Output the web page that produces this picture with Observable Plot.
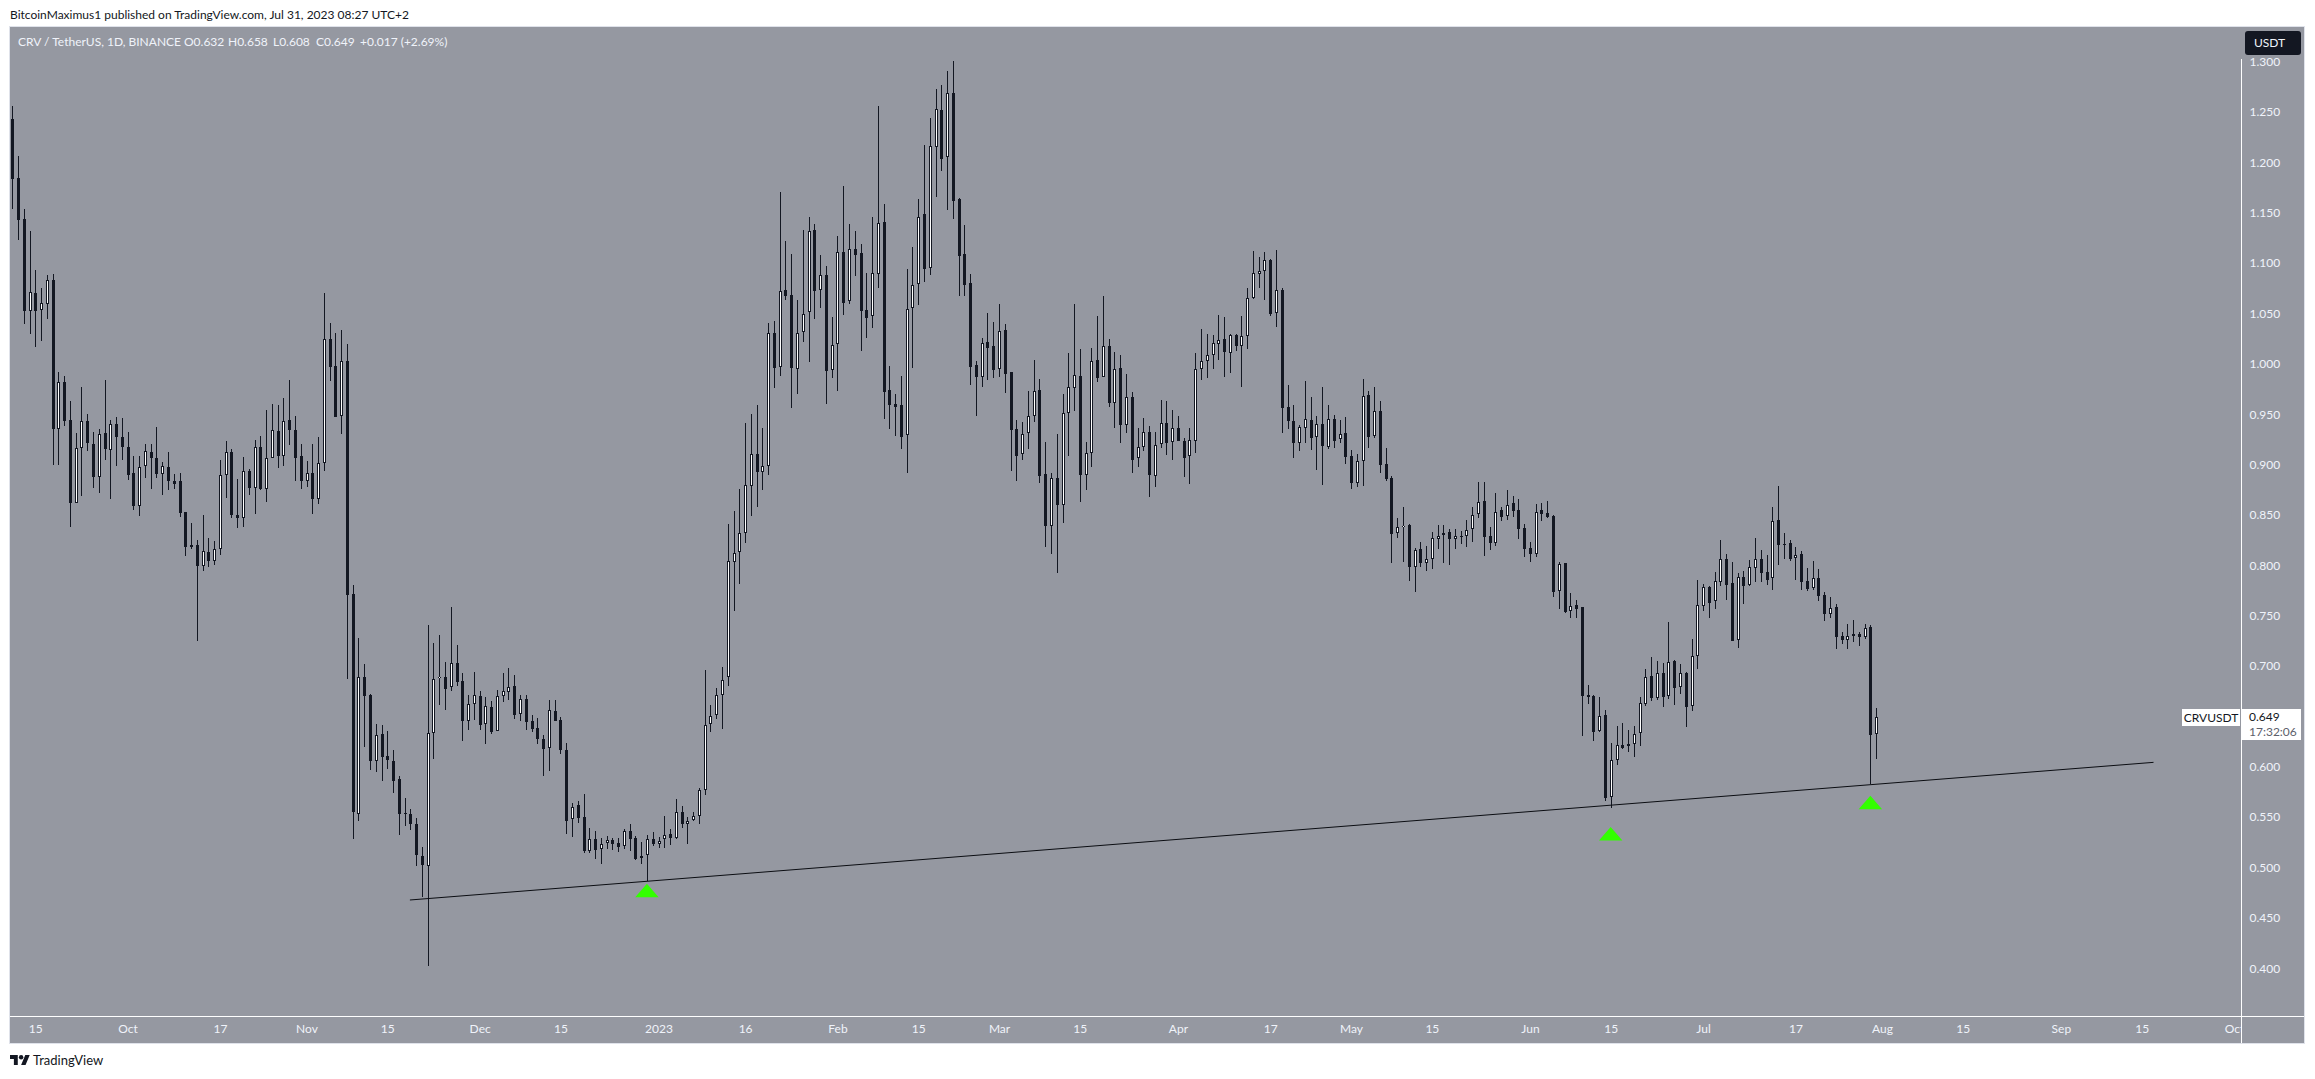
<!DOCTYPE html>
<html>
<head>
<meta charset="utf-8">
<script src="https://cdn.jsdelivr.net/npm/d3@7"></script>
<script src="https://cdn.jsdelivr.net/npm/@observablehq/plot@0.6"></script>
<style>
html,body{margin:0;padding:0;background:#fff;overflow:hidden}
#page{position:relative;width:2315px;height:1079px;overflow:hidden;font-family:Lato,sans-serif;font-size:12px}
#page>*{position:absolute}
#page svg{display:block}
#pane{left:9px;top:26px;width:2296px;height:1018px;box-sizing:border-box;border:1px solid #dfe2ea;background:#9598a1}
.w{white-space:pre;line-height:14px}
.leg{top:35px;color:#f0f3fa}
</style>
</head>
<body>
<div id="page">
  <div id="pane"></div>
  <div id="plot" style="left:0;top:0"></div>
  <div style="left:2242px;top:27px;width:62px;height:31px;background:#9598a1"></div>
  <div style="left:2242px;top:1017px;width:62px;height:26px;background:#9598a1"></div>
  <div style="left:2241px;top:59px;width:1px;height:984px;background:#fff"></div>
  <div style="left:10px;top:1016px;width:2294px;height:1px;background:#fff"></div>
  <div class="w" style="left:10px;top:8px;color:#131722">BitcoinMaximus1 published on TradingView.com, Jul 31, 2023 08:27 UTC+2</div>
  <div class="w leg" style="left:18px">CRV / TetherUS, 1D, BINANCE</div>
  <div class="w leg" style="left:184px">O0.632</div>
  <div class="w leg" style="left:228px">H0.658</div>
  <div class="w leg" style="left:273px">L0.608</div>
  <div class="w leg" style="left:316px">C0.649</div>
  <div class="w leg" style="left:360px">+0.017 (+2.69%)</div>
  <div class="w" style="left:2245px;top:31px;width:56px;height:24px;line-height:24px;background:#131722;border-radius:3px;color:#f0f3fa;box-sizing:border-box;padding-left:9px">USDT</div>
  <div class="w" id="tagName" style="left:2182px;width:58px;height:17px;line-height:17px;background:#fff;color:#131722;text-align:center">CRVUSDT</div>
  <div class="w" id="tagPrice" style="left:2242px;width:59px;height:31px;background:#fff;color:#131722;padding-left:7px;box-sizing:border-box;line-height:15px">0.649<br><span style="color:#5d606b">17:32:06</span></div>
  <svg style="left:10px;top:1055px" width="20" height="10" viewBox="0 4 36 18"><path d="M14 22H7V11H0V4h14v18ZM28 22h-8l7.5-18h8L28 22Z" fill="#131722"/><circle cx="20" cy="8" r="4" fill="#131722"/></svg>
  <div class="w" style="left:33px;top:1053px;color:#131722;font-size:13px">TradingView</div>
</div>
<script>
const opens = [
1.243,1.184,1.144,1.052,1.070,1.053,1.059,1.083,.935,.982,
.944,.862,.916,.943,.920,.888,.931,.914,.940,.927,
.917,.892,.859,.899,.912,.906,.891,.898,.884,.884,
.853,.818,.820,.799,.813,.804,.816,.890,.912,.850,
.847,.894,.877,.917,.876,.906,.933,.908,.944,.934,
.908,.884,.892,.866,.902,1.025,.998,.948,1.003,.771,
.553,.689,.671,.606,.632,.611,.606,.588,.554,.553,
.543,.511,.501,.633,.688,.689,.679,.703,.685,.645,
.662,.670,.642,.659,.635,.670,.674,.680,.652,.667,
.645,.638,.628,.619,.655,.646,.617,.548,.562,.550,
.516,.528,.518,.524,.527,.524,.521,.536,.529,.511,
.512,.528,.523,.528,.533,.529,.555,.543,.547,.551,
.577,.642,.651,.671,.689,.803,.813,.832,.879,.910,
.893,.899,1.031,.997,1.073,1.068,.995,1.032,1.051,1.133,
1.073,1.088,.994,1.020,1.111,1.062,1.114,1.110,1.053,1.047,
1.089,1.141,.974,.960,.959,.929,1.055,1.079,1.149,1.095,
1.215,1.252,1.205,1.269,1.164,1.109,1.080,.999,.987,1.022,
1.018,.995,1.034,.992,.935,.910,.931,.948,.974,.891,
.839,.887,.860,.951,.976,.988,.890,.911,1.004,.987,
1.018,.961,.996,.939,.967,.906,.917,.932,.889,.920,
.941,.922,.936,.923,.908,.923,.995,1.003,1.009,1.020,
1.025,1.011,1.029,1.018,1.028,1.065,1.089,1.092,1.103,1.050,
1.073,.957,.943,.921,.936,.944,.927,.940,.917,.945,
.925,.931,.908,.882,.904,.969,.928,.953,.901,.887,
.832,.838,.840,.798,.816,.802,.806,.826,.832,.833,
.826,.829,.829,.836,.851,.864,.829,.822,.855,.849,
.862,.855,.837,.817,.811,.855,.852,.849,.774,.802,
.755,.761,.759,.671,.670,.635,.651,.570,.607,.622,
.621,.623,.633,.662,.690,.668,.693,.670,.705,.679,
.693,.660,.710,.760,.778,.765,.783,.806,.782,.726,
.788,.780,.797,.806,.793,.787,.845,.821,.822,.807,
.811,.784,.777,.787,.770,.752,.759,.730,.726,.732,
.732,.729,.739,.632];
const highs = [
1.256,1.206,1.154,1.132,1.093,1.075,1.088,1.089,.992,.988,
.963,.931,.977,.950,.932,.935,.984,.944,.947,.946,
.932,.908,.908,.920,.920,.937,.903,.912,.891,.892,
.853,.842,.825,.850,.827,.824,.905,.923,.915,.886,
.907,.896,.924,.928,.954,.960,.959,.966,.984,.948,
.920,.904,.920,.927,1.070,1.041,1.031,1.034,1.020,.780,
.728,.702,.672,.642,.641,.635,.617,.591,.569,.558,
.549,.520,.741,.723,.731,.704,.759,.721,.693,.671,
.694,.675,.669,.665,.676,.693,.698,.691,.671,.671,
.651,.648,.631,.666,.666,.649,.624,.564,.566,.573,
.539,.536,.529,.531,.529,.529,.538,.543,.531,.525,
.532,.535,.530,.551,.538,.568,.561,.550,.555,.579,
.696,.661,.678,.699,.841,.854,.876,.941,.950,.959,
.936,1.041,1.043,1.171,1.122,1.109,1.063,1.133,1.146,1.139,
1.108,1.097,1.046,1.127,1.177,1.139,1.132,1.119,1.090,1.146,
1.256,1.159,.998,.970,.988,1.094,1.116,1.164,1.217,1.244,
1.273,1.277,1.291,1.301,1.165,1.138,1.089,1.003,1.026,1.050,
1.042,1.059,1.040,.992,.944,.942,.973,1.004,.985,.922,
.892,.930,.970,1.011,1.059,1.015,.922,1.016,1.047,1.067,
1.025,1.012,1.009,.990,.972,.936,.946,.938,.932,.964,
.963,.954,.948,.926,.936,1.011,1.035,1.030,1.029,1.048,
1.046,1.030,1.030,1.047,1.075,1.112,1.106,1.111,1.104,1.113,
1.075,.979,.959,.939,.983,.967,.948,.977,.959,.949,
.944,.947,.914,.910,.985,.973,.977,.963,.916,.889,
.847,.858,.841,.817,.823,.819,.833,.840,.840,.836,
.836,.834,.845,.858,.883,.883,.838,.872,.858,.875,
.869,.866,.841,.823,.861,.862,.864,.850,.803,.802,
.772,.766,.759,.681,.671,.669,.656,.624,.640,.643,
.636,.640,.669,.697,.709,.705,.703,.744,.706,.702,
.694,.727,.785,.781,.779,.793,.825,.811,.803,.792,
.794,.805,.827,.815,.810,.858,.879,.832,.825,.818,
.814,.797,.804,.796,.773,.768,.762,.734,.742,.746,
.734,.742,.741,.658];
const lows = [
1.154,1.123,1.040,1.030,1.017,1.023,1.044,.900,.900,.938,
.838,.862,.869,.913,.877,.872,.905,.866,.899,.905,
.885,.855,.849,.887,.876,.887,.870,.875,.876,.848,
.809,.816,.725,.794,.798,.800,.810,.867,.847,.837,
.838,.870,.851,.875,.863,.906,.897,.899,.919,.884,
.876,.878,.851,.861,.894,.983,.947,.930,.687,.528,
.546,.620,.597,.595,.586,.598,.574,.532,.541,.537,
.501,.471,.402,.608,.661,.656,.675,.680,.626,.636,
.646,.636,.623,.632,.635,.664,.666,.647,.645,.636,
.634,.623,.591,.596,.645,.613,.533,.530,.544,.514,
.514,.508,.503,.518,.517,.515,.518,.516,.507,.503,
.487,.521,.519,.519,.522,.528,.539,.523,.546,.543,
.572,.634,.647,.637,.680,.755,.781,.822,.849,.858,
.875,.890,.976,.988,1.063,.956,.970,1.022,1.002,1.044,
1.055,.960,.986,.973,1.048,1.059,1.087,1.013,1.026,1.036,
1.075,.945,.935,.928,.915,.892,.996,1.058,1.081,1.088,
1.166,1.191,1.153,1.144,1.067,1.067,.979,.948,.977,.984,
.986,.987,.971,.894,.884,.905,.915,.942,.882,.818,
.811,.792,.842,.908,.953,.863,.875,.898,.982,.987,
.957,.936,.921,.931,.892,.898,.913,.868,.878,.916,
.909,.905,.923,.888,.881,.911,.984,.986,.995,1.004,
.987,.991,1.013,.977,1.015,1.064,1.075,1.063,1.047,1.037,
.931,.935,.906,.913,.921,.914,.895,.880,.915,.916,
.921,.901,.876,.878,.879,.916,.926,.892,.884,.802,
.827,.803,.784,.773,.798,.794,.796,.816,.802,.800,
.816,.821,.818,.823,.847,.809,.815,.819,.844,.845,
.848,.826,.808,.803,.808,.844,.847,.768,.757,.753,
.748,.748,.630,.662,.626,.634,.566,.559,.602,.618,
.615,.610,.621,.660,.665,.666,.659,.667,.661,.672,
.639,.655,.697,.755,.748,.757,.779,.766,.725,.718,
.762,.779,.783,.783,.780,.775,.800,.806,.804,.785,
.775,.774,.775,.765,.745,.748,.717,.722,.717,.724,
.720,.727,.583,.608];
const closes = [
1.183,1.143,1.052,1.071,1.052,1.060,1.083,.935,.982,.943,
.862,.916,.943,.921,.888,.930,.915,.940,.927,.917,
.890,.859,.898,.913,.906,.891,.899,.884,.881,.852,
.818,.820,.799,.814,.804,.816,.890,.912,.850,.847,
.894,.877,.917,.876,.906,.934,.908,.943,.934,.906,
.884,.892,.866,.902,1.025,.997,.947,1.003,.770,.555,
.689,.670,.606,.631,.610,.607,.586,.553,.553,.543,
.512,.502,.633,.687,.689,.677,.703,.684,.645,.662,
.671,.641,.660,.634,.670,.675,.679,.651,.667,.644,
.637,.628,.618,.656,.645,.617,.546,.560,.549,.516,
.528,.517,.523,.527,.523,.520,.536,.528,.508,.509,
.528,.523,.526,.532,.529,.555,.543,.546,.551,.577,
.641,.650,.671,.686,.804,.812,.832,.880,.910,.893,
.899,1.031,.996,1.072,1.067,.996,1.031,1.049,1.132,1.072,
1.088,.993,1.019,1.111,1.060,1.114,1.108,1.052,1.045,1.090,
1.140,.972,.959,.957,.927,1.054,1.078,1.146,1.094,1.216,
1.253,1.203,1.269,1.162,1.107,1.078,.997,.987,1.021,1.016,
.994,1.033,.990,.934,.908,.930,.948,.973,.889,.839,
.887,.860,.951,.977,.989,.890,.911,1.003,.986,1.018,
.961,.995,.939,.967,.905,.917,.932,.890,.919,.941,
.921,.936,.923,.906,.924,.995,1.003,1.009,1.021,1.024,
1.012,1.029,1.018,1.028,1.065,1.090,1.092,1.103,1.049,1.073,
.956,.943,.921,.937,.945,.926,.940,.918,.945,.923,
.930,.907,.882,.904,.968,.927,.953,.900,.886,.831,
.838,.839,.798,.815,.802,.806,.827,.829,.830,.826,
.829,.828,.835,.850,.863,.828,.822,.853,.848,.860,
.854,.836,.816,.811,.853,.851,.848,.773,.801,.754,
.760,.757,.670,.669,.634,.650,.569,.607,.622,.619,
.623,.632,.663,.689,.668,.693,.669,.704,.678,.693,
.659,.710,.761,.778,.763,.784,.806,.780,.725,.788,
.779,.798,.806,.792,.785,.844,.820,.820,.806,.810,
.783,.776,.787,.769,.752,.758,.729,.726,.730,.730,
.729,.738,.631,.649];

const priceTicks = [.4,.45,.5,.55,.6,.65,.7,.75,.8,.85,.9,.95,1,1.05,1.1,1.15,1.2,1.25,1.3];
const timeTicks = ["2022-09-15","2022-10-01","2022-10-17","2022-11-01","2022-11-15","2022-12-01","2022-12-15","2023-01-01","2023-01-16","2023-02-01","2023-02-15","2023-03-01","2023-03-15","2023-04-01","2023-04-17","2023-05-01","2023-05-15","2023-06-01","2023-06-15","2023-07-01","2023-07-17","2023-08-01","2023-08-15","2023-09-01","2023-09-15","2023-10-01"];
const timeLabels = ["15","Oct","17","Nov","15","Dec","15","2023","16","Feb","15","Mar","15","Apr","17","May","15","Jun","15","Jul","17","Aug","15","Sep","15","Oct"];
const trendDays = [68.9,370.9];
const trendPrices = [.4682,.6048];
const arrowDays = [109.9,276.9,321.9];
const arrowPrices = [.4777,.5340,.5650];
const lastClose = .649;

if (new Set([opens.length,highs.length,lows.length,closes.length]).size !== 1) throw new Error("length mismatch " + [opens.length,highs.length,lows.length,closes.length]);

const firstDay = Date.UTC(2022,8,11);
const day = i => new Date(firstDay + i*864e5);
const candles = opens.map((o,i)=>({date:day(i),open:o,high:highs[i],low:lows[i],close:closes[i],top:Math.max(o,closes[i]),bottom:Math.min(o,closes[i])}));
const rising = candles.filter(d=>d.close>d.open);
const trend = trendDays.map((d,i)=>({date:day(d),price:trendPrices[i]}));
const arrows = arrowDays.map((d,i)=>({date:day(d),price:arrowPrices[i]}));
const wideTriangle = {draw(c,size){const r=Math.sqrt(size/Math.PI);c.moveTo(0,-.615*r);c.lineTo(1.065*r,.615*r);c.lineTo(-1.065*r,.615*r);c.closePath();}};

const INK = "#131722";
const chart = Plot.plot({
  width:2315,height:1079,
  marginLeft:10,marginRight:73.5,marginTop:27,marginBottom:63,
  style:{background:"transparent",fontFamily:"Lato, sans-serif",fontSize:"12px",overflow:"visible"},
  x:{type:"utc",domain:[day(-.38),day(386.3)]},
  y:{domain:[.3525,1.3344]},
  marks:[
    Plot.axisY({anchor:"right",ticks:priceTicks,tickSize:0,tickPadding:7.5,tickFormat:d3.format(".3f"),fill:"#f0f3fa",label:null}),
    Plot.axisX({anchor:"bottom",ticks:timeTicks.map(d=>new Date(d)),tickSize:0,tickPadding:8,tickFormat:(d,i)=>timeLabels[i],fill:"#f0f3fa",label:null}),
    Plot.ruleX(candles,{x:"date",y1:"high",y2:"low",stroke:INK,strokeWidth:1,shapeRendering:"crispEdges"}),
    Plot.ruleX(candles,{x:"date",y1:"top",y2:"bottom",stroke:INK,strokeWidth:3,shapeRendering:"crispEdges"}),
    Plot.ruleX(rising,{x:"date",y1:"top",y2:"bottom",stroke:"#fff",strokeWidth:1,insetTop:1,insetBottom:1,shapeRendering:"crispEdges"}),
    Plot.line(trend,{x:"date",y:"price",stroke:"#0b0d12",strokeWidth:1}),
    Plot.dot(arrows,{x:"date",y:"price",r:11,symbol:wideTriangle,fill:"#33ff00",stroke:null})
  ]
});
document.getElementById("plot").appendChild(chart);
const tagY = chart.scale("y").apply(lastClose);
document.getElementById("tagName").style.top = (tagY-8.5)+"px";
document.getElementById("tagPrice").style.top = (tagY-8.5)+"px";
</script>
</body>
</html>
